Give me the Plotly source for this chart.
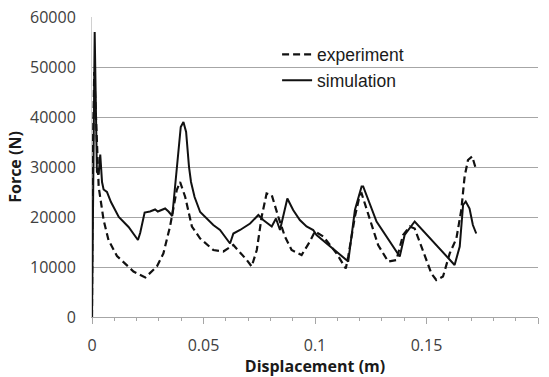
import plotly.graph_objects as go

# Force-displacement curves
exp_disp = [0, 0.0003, 0.001, 0.0022, 0.003, 0.0052, 0.0074, 0.0112, 0.0141, 0.0186,
            0.0239, 0.0291, 0.032, 0.035, 0.038, 0.0395, 0.0418, 0.0448, 0.0485, 0.0544,
            0.0589, 0.0634, 0.0694, 0.0716, 0.0739, 0.0761, 0.0783, 0.0806, 0.0835, 0.0865,
            0.0895, 0.094, 0.0977, 0.1, 0.1037, 0.1097, 0.1138, 0.1149, 0.1179, 0.1201,
            0.1209, 0.1253, 0.1283, 0.1328, 0.1365, 0.1395, 0.1425, 0.1447, 0.1484, 0.1522,
            0.1544, 0.1574, 0.1604, 0.1634, 0.1656, 0.1671, 0.1686, 0.1705, 0.1723]
exp_force = [0, 30000, 49000, 34000, 26000, 19400, 15400, 12200, 11000, 9100,
             7900, 10100, 12700, 18100, 25400, 27000, 24000, 18100, 15700, 13400,
             13100, 14400, 11400, 10100, 13400, 20100, 24700, 24400, 20100, 16100,
             13400, 12400, 15100, 17100, 16100, 12700, 9700, 12100, 20100, 24400,
             24700, 18700, 14400, 11100, 11400, 16400, 18100, 17700, 13400, 8700,
             7400, 8100, 12700, 15700, 21400, 28100, 31400, 32100, 29400]

sim_disp = [0, 0.0006, 0.0012, 0.0022, 0.003, 0.0037, 0.0045, 0.0052, 0.0067, 0.0085,
            0.0104, 0.012, 0.0164, 0.0206, 0.0216, 0.0236, 0.026, 0.0283, 0.0295, 0.0328,
            0.0343, 0.036, 0.0383, 0.0398, 0.041, 0.0422, 0.0435, 0.0444, 0.046, 0.0485,
            0.0544, 0.0574, 0.0619, 0.0634, 0.0664, 0.0709, 0.0746, 0.0768, 0.0806, 0.0825,
            0.0843, 0.0876, 0.0902, 0.0932, 0.0962, 0.0977, 0.0992, 0.1007, 0.1067, 0.1149,
            0.1179, 0.1209, 0.1216, 0.1276, 0.138, 0.1402, 0.1447, 0.1596, 0.1626, 0.1649,
            0.1664, 0.1676, 0.1693, 0.1708, 0.1723]
sim_force = [0, 30000, 57000, 29000, 28500, 32500, 27000, 25500, 25000, 23000,
             21400, 20000, 18000, 15400, 16800, 20900, 21100, 21500, 21100, 21700,
             21100, 20200, 31000, 38000, 39000, 37000, 30000, 27000, 24000, 21000,
             18400, 17400, 14700, 16700, 17400, 18700, 20400, 19400, 18100, 19700,
             17400, 23700, 21400, 19400, 18100, 17700, 17400, 16400, 14100, 11100,
             21400, 26100, 26100, 19100, 12100, 16400, 19100, 11700, 10400, 14100,
             22400, 23100, 21700, 18400, 16700]

x_ticks = [0, 0.05, 0.1, 0.15, 0.2]
x_tick_text = ["0", "0.05", "0.1", "0.15", "0.2"]
y_ticks = [0, 10000, 20000, 30000, 40000, 50000, 60000]
y_tick_text = ["0", "10000", "20000", "30000", "40000", "50000", "60000"]

tick_font = dict(family="Open Sans", size=16, color="#404040")
grid = "#a6a6a6"

fig = go.Figure()
fig.add_trace(go.Scatter(x=exp_disp, y=exp_force, mode="lines", name="experiment",
                         line=dict(color="#111111", width=2.2, dash="7px,4px")))
fig.add_trace(go.Scatter(x=sim_disp, y=sim_force, mode="lines", name="simulation",
                         line=dict(color="#111111", width=2)))

fig.update_layout(
    width=549, height=377,
    margin=dict(l=92, r=11, t=17, b=60),
    paper_bgcolor="white", plot_bgcolor="white",
    showlegend=True,
    legend=dict(x=0.415, y=0.935, xanchor="left", yanchor="top",
                bgcolor="rgba(0,0,0,0)", font=dict(family="Liberation Sans", size=17.5, color="#1a1a1a"),
                itemwidth=30, tracegroupgap=0),
    xaxis=dict(range=[0, 0.2], tickvals=x_ticks, ticktext=x_tick_text, automargin=False,
               showgrid=False, zeroline=False,
               showline=True, linecolor=grid, linewidth=1,
               ticks="outside", ticklen=6, tickcolor=grid,
               minor=dict(dtick=0.01, ticks="outside", ticklen=3, tickcolor=grid, showgrid=False),
               tickfont=tick_font, ticklabelstandoff=8,
               title=dict(text="<b>Displacement (m)</b>", standoff=6,
                          font=dict(family="Open Sans", size=16, color="#1a1a1a"))),
    xaxis2=dict(range=[0, 0.2], overlaying="x", anchor="y", side="bottom", automargin=False,
                tickvals=x_ticks, showticklabels=False, showgrid=False, zeroline=False,
                showline=False, ticks="inside", ticklen=5, tickcolor=grid,
                minor=dict(dtick=0.01, ticks="inside", ticklen=3, tickcolor=grid, showgrid=False)),
    yaxis=dict(range=[0, 60000], tickvals=y_ticks, ticktext=y_tick_text, automargin=False,
               showgrid=True, gridcolor=grid, gridwidth=1, zeroline=False,
               showline=True, linecolor="#d0d0d0", linewidth=1,
               ticks="", tickfont=tick_font, ticklabelstandoff=12,
               title=dict(text="<b>Force (N)</b>", standoff=4,
                          font=dict(family="Open Sans", size=16, color="#1a1a1a"))),
)

fig.write_html("out.html")
